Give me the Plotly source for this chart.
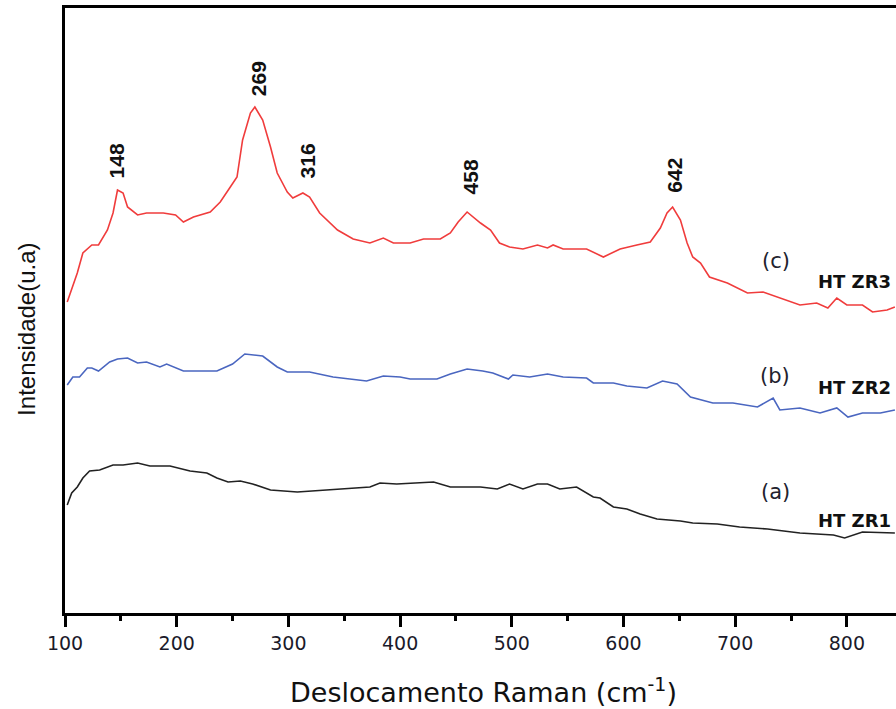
import plotly.graph_objects as go

# ---- data (Raman shift in cm^-1, intensity in arbitrary units) ----
wn_c = [102, 111, 116, 124, 130, 138, 143, 147, 152, 156, 165, 173, 188, 199, 206, 215, 230, 239, 248, 254,
        259, 266, 270, 277, 284, 290, 299, 304, 313, 319, 328, 344, 358, 373, 385, 394, 409, 421, 436, 445,
        452, 460, 472, 481, 489, 498, 510, 523, 532, 537, 546, 567, 582, 597, 612, 624, 633, 639, 644, 651,
        657, 662, 669, 677, 693, 711, 725, 740, 758, 773, 783, 791, 800, 814, 823, 836, 843]
int_c = [311, 340, 360, 368, 368, 383, 400, 423, 420, 406, 398, 400, 400, 398, 391, 396, 401, 411, 426, 436,
         473, 500, 506, 493, 466, 440, 421, 415, 420, 416, 400, 383, 374, 370, 375, 370, 370, 374, 374, 380,
         391, 401, 390, 383, 370, 366, 364, 368, 365, 368, 364, 364, 356, 364, 368, 371, 385, 400, 406, 393,
         370, 356, 350, 336, 330, 320, 321, 315, 308, 310, 305, 315, 308, 308, 301, 303, 306]

wn_b = [102, 107, 113, 120, 124, 130, 140, 147, 156, 165, 173, 185, 191, 206, 221, 236, 250, 261, 277, 290,
        299, 319, 340, 355, 370, 385, 400, 409, 433, 445, 460, 474, 483, 497, 501, 516, 532, 546, 567, 573,
        591, 603, 615, 621, 635, 648, 660, 680, 698, 720, 734, 740, 758, 776, 791, 801, 814, 830, 843]
int_b = [228, 236, 236, 245, 245, 242, 251, 254, 255, 250, 251, 246, 249, 242, 242, 242, 249, 259, 257, 246,
         241, 241, 236, 234, 232, 237, 236, 234, 234, 239, 244, 242, 240, 234, 238, 236, 239, 236, 235, 230,
         230, 227, 226, 225, 232, 229, 216, 210, 210, 206, 215, 203, 205, 200, 205, 196, 200, 200, 203]

wn_a = [102, 106, 111, 116, 122, 131, 143, 152, 165, 176, 194, 212, 227, 236, 246, 257, 268, 284, 308, 335,
        355, 373, 382, 397, 430, 445, 472, 487, 498, 510, 523, 532, 543, 558, 573, 579, 591, 603, 615, 630,
        651, 662, 684, 704, 729, 758, 788, 798, 814, 832, 843]
int_a = [108, 120, 126, 135, 142, 143, 148, 148, 150, 147, 147, 142, 140, 135, 131, 132, 129, 123, 121, 123,
         125, 126, 130, 129, 131, 126, 126, 124, 129, 124, 129, 129, 124, 126, 116, 115, 106, 104, 99, 94,
         92, 90, 89, 86, 84, 80, 78, 75, 81, 80, 80]

peak_labels = ["148", "269", "316", "458", "642"]
peak_label_x = [146, 273, 317, 463, 645]
peak_label_y = [452, 534, 452, 436, 438]

series_tags = ["(c)", "(b)", "(a)"]
series_names = ["HT ZR3", "HT ZR2", "HT ZR1"]
tag_x = [737, 736, 736]
tag_y = [352, 237, 121]
name_x = [807, 807, 807]
name_y = [332, 226, 93]

x_ticks = [100, 200, 300, 400, 500, 600, 700, 800]

fig = go.Figure()
fig.add_trace(go.Scatter(x=wn_a, y=int_a, mode="lines", line=dict(color="#222222", width=1.6), name="HT ZR1"))
fig.add_trace(go.Scatter(x=wn_b, y=int_b, mode="lines", line=dict(color="#4a66c0", width=1.6), name="HT ZR2"))
fig.add_trace(go.Scatter(x=wn_c, y=int_c, mode="lines", line=dict(color="#f03c3c", width=1.6), name="HT ZR3"))

annotations = []
for t, x, y in zip(peak_labels, peak_label_x, peak_label_y):
    annotations.append(dict(x=x, y=y, xref="x", yref="y", text=t, showarrow=False, textangle=-90,
                            font=dict(family="Liberation Sans", size=21, color="#111111", weight="bold"),
                            xanchor="center", yanchor="middle"))
for t, x, y in zip(series_tags, tag_x, tag_y):
    annotations.append(dict(x=x, y=y, xref="x", yref="y", text=t, showarrow=False,
                            font=dict(family="DejaVu Sans", size=21, color="#22222e"),
                            xanchor="center", yanchor="middle"))
for t, x, y in zip(series_names, name_x, name_y):
    annotations.append(dict(x=x, y=y, xref="x", yref="y", text=t, showarrow=False,
                            font=dict(family="DejaVu Sans", size=18, color="#111111", weight="bold"),
                            xanchor="center", yanchor="middle"))
# axis titles
annotations.append(dict(x=-0.0457, y=0.468, xref="paper", yref="paper", text="Intensidade(u.a)",
                        showarrow=False, textangle=-90,
                        font=dict(family="Liberation Sans", size=24, color="#111111"),
                        xanchor="center", yanchor="middle"))
annotations.append(dict(x=0.5036, y=-0.128, xref="paper", yref="paper",
                        text="Deslocamento Raman (cm<sup>-1</sup>)", showarrow=False,
                        font=dict(family="DejaVu Sans", size=27, color="#111111"),
                        xanchor="center", yanchor="middle"))

fig.update_layout(
    width=896, height=709,
    margin=dict(l=65, r=0, t=8, b=96),
    paper_bgcolor="white", plot_bgcolor="white",
    showlegend=False,
    annotations=annotations,
)
fig.update_xaxes(
    range=[100, 844], tickvals=x_ticks, ticktext=[str(v) for v in x_ticks],
    showline=True, linecolor="black", linewidth=2.5, mirror=True,
    ticks="outside", ticklen=11, tickwidth=2.5, tickcolor="black",
    minor=dict(tickvals=[150, 250, 350, 450, 550, 650, 750], ticks="outside", ticklen=5,
               tickwidth=2.5, tickcolor="black", showgrid=False),
    showgrid=False, zeroline=False,
    tickfont=dict(family="DejaVu Sans", size=19, color="#1a1a2a"),
)
fig.update_yaxes(
    range=[0, 605], showline=True, linecolor="black", linewidth=2.5,
    showticklabels=False, ticks="", showgrid=False, zeroline=False,
)
fig.write_html("out.html", config={"displayModeBar": False},
               post_script="document.body.style.margin='0px';document.body.style.overflow='hidden';")
